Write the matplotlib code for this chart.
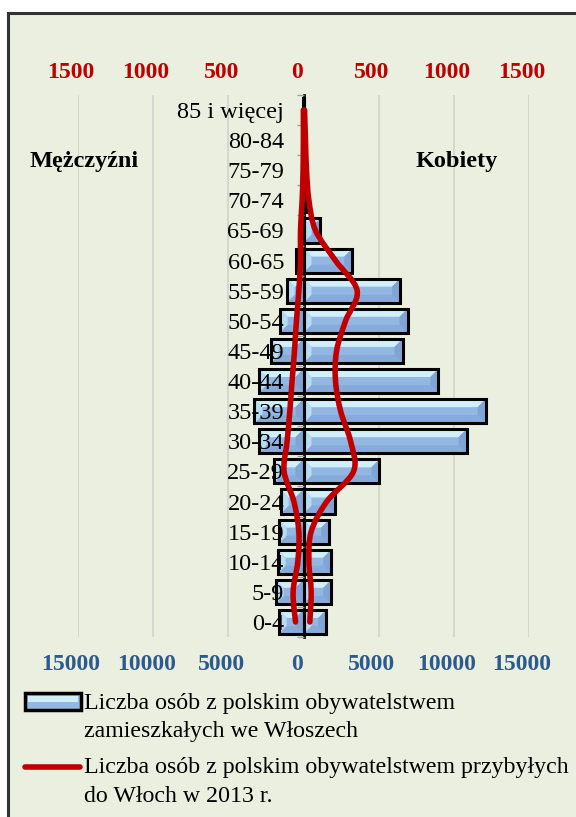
import matplotlib
matplotlib.use("Agg")
import matplotlib.pyplot as plt
import matplotlib.transforms as mtransforms
from matplotlib.patches import Rectangle, PathPatch
from matplotlib.path import Path
from matplotlib.lines import Line2D

plt.rcParams['font.family'] = ['Liberation Serif', 'DejaVu Serif']

# dane
age_groups = ['0-4', '5-9', '10-14', '15-19', '20-24', '25-29', '30-34', '35-39',
              '40-44', '45-49', '50-54', '55-59', '60-65', '65-69', '70-74',
              '75-79', '80-84', '85 i więcej']
# zamieszkali (oś dolna)
men_resident = [1650, 1850, 1720, 1650, 1520, 1990, 2990, 3270, 2990, 2190,
                1590, 1120, 520, 150, 60, 40, 30, 20]
women_resident = [1520, 1850, 1850, 1720, 2120, 5050, 10850, 12120, 8970, 6590,
                  6920, 6420, 3250, 1120, 250, 100, 60, 40]
# przybyli w 2013 r. (oś górna)
men_arrived = [53, 69, 38, 31, 64, 129, 109, 91, 76, 60, 47, 31, 20, 20, 9, 3, 1, 1]
women_arrived = [42, 51, 36, 51, 155, 333, 313, 247, 213, 220, 280, 357, 213, 80,
                 36, 20, 13, 7]

bottom_ticks = [-15000, -10000, -5000, 0, 5000, 10000, 15000]
top_ticks = [-1500, -1000, -500, 0, 500, 1000, 1500]

bg = '#EBEFDF'
W, H = 576, 817

fig = plt.figure(figsize=(W / 100, H / 100), dpi=100)
fig.patch.set_facecolor('white')
fig.patches.append(Rectangle((8 / W, -0.02), 1.1, 1 - 13 / H + 0.02,
                             transform=fig.transFigure, facecolor=bg,
                             edgecolor='#333333', linewidth=2.2, zorder=-10))

ax = fig.add_axes([78 / W, 1 - 637 / H, 451 / W, 542 / H])
ax.set_facecolor('none')
ax.set_xlim(-15000, 15000)
ax.set_ylim(-0.5, len(age_groups) - 0.5)

# słupki z fazowaniem
h = 0.8
px_x = 30000 / 451
px_y = len(age_groups) / 542


def bevel_bar(y, v):
    x0, x1 = min(0, v), max(0, v)
    y0, y1 = y - h / 2, y + h / 2
    bx = min(8 * px_x, (x1 - x0) / 2)
    by = min(8 * px_y, h / 2)
    ax.barh(y, v, height=h, color='#93B7E3', edgecolor='none', zorder=2)
    ax.fill([x0, x1, x1 - bx, x0 + bx], [y1, y1, y1 - by, y1 - by], color='#CFEFFB', lw=0, zorder=3)
    ax.fill([x0, x1, x1 - bx, x0 + bx], [y0, y0, y0 + by, y0 + by], color='#86AAD9', lw=0, zorder=3)
    ax.fill([x0, x0, x0 + bx, x0 + bx], [y0, y1, y1 - by, y0 + by], color='#B8DBF4', lw=0, zorder=3)
    ax.fill([x1, x1, x1 - bx, x1 - bx], [y0, y1, y1 - by, y0 + by], color='#80A4D4', lw=0, zorder=3)
    ax.barh(y, v, height=h, fill=False, edgecolor='black', linewidth=2.2, zorder=4)


for i in range(len(age_groups)):
    bevel_bar(i, -men_resident[i])
    bevel_bar(i, women_resident[i])

ax.set_xticks(bottom_ticks)
ax.set_xticklabels([str(abs(t)) for t in bottom_ticks])
ax.grid(axis='x', color='#D6D8D0', linewidth=1.5, zorder=0)
ax.set_axisbelow(True)
ax.tick_params(axis='x', length=0, pad=12, labelsize=17, labelcolor='#2B5A8E')
for lab in ax.get_xticklabels():
    lab.set_fontweight('bold')

ax.set_yticks(range(len(age_groups)))
ax.set_yticklabels(age_groups)
ax.set_yticks([i + 0.5 for i in range(-1, len(age_groups))], minor=True)
ax.tick_params(axis='y', which='major', length=0, pad=14, labelsize=17.5)
ax.tick_params(axis='y', which='minor', length=5, color='#A0A0A0', width=1)
ax.yaxis.set_zorder(6)

for s in ['top', 'right', 'bottom']:
    ax.spines[s].set_visible(False)
ax.spines['left'].set_position(('data', 0))
ax.spines['left'].set_linewidth(2)
ax.spines['left'].set_zorder(5)

# oś górna - linie wygładzone
ax2 = ax.twiny()
ax2.set_xlim(-1500, 1500)
ax2.set_xticks(top_ticks)
ax2.set_xticklabels([str(abs(t)) for t in top_ticks])
ax2.tick_params(axis='x', length=0, pad=9, labelsize=17, labelcolor='#C00000')
for lab in ax2.get_xticklabels():
    lab.set_fontweight('bold')
for s in ax2.spines.values():
    s.set_visible(False)


def smooth_path(xs, ys):
    pts = list(zip(xs, ys))
    n = len(pts)
    verts = [pts[0]]
    codes = [Path.MOVETO]
    for i in range(n - 1):
        p0 = pts[max(i - 1, 0)]
        p1 = pts[i]
        p2 = pts[i + 1]
        p3 = pts[min(i + 2, n - 1)]
        c1 = (p1[0] + (p2[0] - p0[0]) / 6, p1[1] + (p2[1] - p0[1]) / 6)
        c2 = (p2[0] - (p3[0] - p1[0]) / 6, p2[1] - (p3[1] - p1[1]) / 6)
        verts += [c1, c2, p2]
        codes += [Path.CURVE4] * 3
    return Path(verts, codes)


ys = list(range(len(age_groups)))
for vals in ([-v for v in men_arrived], women_arrived):
    ax2.add_patch(PathPatch(smooth_path(vals, ys), fill=False, edgecolor='#C00000',
                            linewidth=4, capstyle='round', joinstyle='round', zorder=6))

# przesunięcie etykiet osi poziomych
shift = mtransforms.ScaledTranslation(-7 / 100, 0, fig.dpi_scale_trans)
for lab in ax.get_xticklabels() + ax2.get_xticklabels():
    lab.set_transform(lab.get_transform() + shift)

fig.text(84 / W, 1 - 162 / H, 'Mężczyźni', ha='center', va='center',
         fontsize=17.5, fontweight='bold')
fig.text(457 / W, 1 - 162 / H, 'Kobiety', ha='center', va='center',
         fontsize=17.5, fontweight='bold')

# legenda
fig.add_artist(Rectangle((25 / W, 1 - 710 / H), 56 / W, 17 / H, transform=fig.transFigure,
                         facecolor='#93B7E3', edgecolor='black', linewidth=2.5))
fig.add_artist(Rectangle((28 / W, 1 - 702 / H), 50 / W, 6 / H, transform=fig.transFigure,
                         facecolor='#CFEFFB', edgecolor='none'))
fig.add_artist(Line2D([25 / W, 80 / W], [1 - 767 / H, 1 - 767 / H], transform=fig.transFigure,
                      color='#C00000', linewidth=4, solid_capstyle='round'))
legend_lines = [('Liczba osób z polskim obywatelstwem', 709),
                ('zamieszkałych we Włoszech', 737),
                ('Liczba osób z polskim obywatelstwem przybyłych', 773),
                ('do Włoch w 2013 r.', 802)]
for txt, yb in legend_lines:
    fig.text(84 / W, 1 - yb / H, txt, ha='left', va='baseline', fontsize=17.2)

fig.savefig('out.png', dpi=100)
